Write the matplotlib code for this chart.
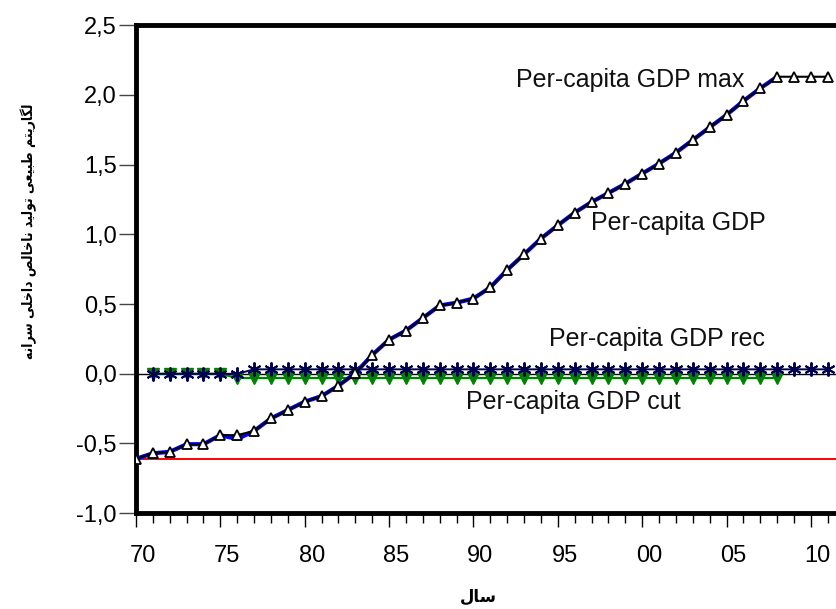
import matplotlib
matplotlib.use("Agg")
import matplotlib.pyplot as plt
import matplotlib.transforms as mtransforms
from matplotlib.ticker import MultipleLocator, FuncFormatter

# Data
years = list(range(1970, 2012))

# Per-capita GDP max (white triangles), 1970-2011
gdp_max = [-0.61, -0.57, -0.56, -0.505, -0.505, -0.44, -0.44, -0.41, -0.32, -0.26,
           -0.20, -0.16, -0.085, 0.005, 0.135, 0.245, 0.31, 0.40, 0.49, 0.51,
           0.54, 0.62, 0.745, 0.857, 0.97, 1.065, 1.156, 1.232, 1.297, 1.363,
           1.436, 1.508, 1.586, 1.677, 1.768, 1.857, 1.957, 2.048, 2.131, 2.131,
           2.131, 2.131]

# Per-capita GDP (blue line), 1970-2008
gdp = [-0.61, -0.57, -0.56, -0.505, -0.505, -0.44, -0.468, -0.41, -0.32, -0.26,
       -0.20, -0.16, -0.085, 0.005, 0.135, 0.245, 0.31, 0.40, 0.49, 0.51,
       0.54, 0.62, 0.745, 0.857, 0.97, 1.065, 1.156, 1.232, 1.297, 1.363,
       1.436, 1.508, 1.586, 1.677, 1.768, 1.857, 1.957, 2.048, 2.131]

# Per-capita GDP rec (asterisks), 1971-2011
rec_years = list(range(1971, 2012))
gdp_rec = [0.0, 0.0, 0.0, 0.0, 0.0, 0.0, 0.032, 0.032, 0.032, 0.032,
           0.032, 0.032, 0.032, 0.032, 0.032, 0.032, 0.032, 0.032, 0.032, 0.032,
           0.032, 0.032, 0.032, 0.032, 0.032, 0.032, 0.032, 0.032, 0.032, 0.032,
           0.032, 0.032, 0.032, 0.032, 0.032, 0.032, 0.032, 0.032, 0.032, 0.032,
           0.032]

# Per-capita GDP cut (green down triangles), 1971-2008
cut_years = list(range(1971, 2009))
gdp_cut = [0.0, 0.0, 0.0, 0.0, 0.0, -0.03, -0.03, -0.03, -0.03, -0.03,
           -0.03, -0.03, -0.03, -0.03, -0.03, -0.03, -0.03, -0.03, -0.03, -0.03,
           -0.03, -0.03, -0.03, -0.03, -0.03, -0.03, -0.03, -0.03, -0.03, -0.03,
           -0.03, -0.03, -0.03, -0.03, -0.03, -0.03, -0.03, -0.03]

red_level = -0.613

ylabel_fa = "لگاریتم طبیعی تولید ناخالص داخلی سرانه"
xlabel_fa = "سال"

# minimal Persian shaping (matplotlib does no joining / RTL)
FORMS = {
    'ل': '\ufedd\ufede\ufedf\ufee0', 'گ': '\ufb92\ufb93\ufb94\ufb95',
    'ا': '\ufe8d\ufe8e', 'ر': '\ufead\ufeae', 'ی': '\ufbfc\ufbfd\ufbfe\ufbff',
    'ت': '\ufe95\ufe96\ufe97\ufe98', 'م': '\ufee1\ufee2\ufee3\ufee4',
    'ط': '\ufec1\ufec2\ufec3\ufec4', 'ب': '\ufe8f\ufe90\ufe91\ufe92',
    'ع': '\ufec9\ufeca\ufecb\ufecc', 'و': '\ufeed\ufeee', 'د': '\ufea9\ufeaa',
    'ن': '\ufee5\ufee6\ufee7\ufee8', 'خ': '\ufea5\ufea6\ufea7\ufea8',
    'ص': '\ufeb9\ufeba\ufebb\ufebc', 'س': '\ufeb1\ufeb2\ufeb3\ufeb4',
    'ه': '\ufee9\ufeea\ufeeb\ufeec',
}

def links_left(c):
    return c in FORMS and len(FORMS[c]) == 4

def shape(text):
    out = []
    for i, c in enumerate(text):
        if c not in FORMS:
            out.append(c)
            continue
        prev = i > 0 and links_left(text[i - 1])
        nxt = i + 1 < len(text) and text[i + 1] in FORMS and links_left(c)
        f = FORMS[c]
        if prev and nxt:
            out.append(f[3])
        elif prev:
            out.append(f[1])
        elif nxt:
            out.append(f[2])
        else:
            out.append(f[0])
    return ''.join(out)[::-1]

plt.rcParams['font.family'] = ['Liberation Sans', 'DejaVu Sans']

fig = plt.figure(figsize=(8.36, 6.09), dpi=100)
ax = fig.add_axes([136 / 836, 95.8 / 609, 700 / 836, 487.9 / 609])

ax.axhline(0, color='black', lw=1.0, zorder=1)
ax.axhline(red_level, color='#ff0000', lw=1.4, zorder=2)

ax.plot(cut_years, gdp_cut, color='#008000', lw=1.6, marker='v', ms=8,
        mfc='#008000', mec='#008000', zorder=3)
ax.plot(rec_years, gdp_rec, color='#000050', lw=1.4, marker=(6, 2, 0), ms=10,
        mew=1.4, mec='#000050', zorder=4)
ax.plot(years[:len(gdp)], gdp, color='#0000ff', lw=3.0, zorder=5)
ax.plot(years, gdp_max, color='black', lw=1.5, marker='^', ms=7.5,
        mfc='white', mec='black', mew=1.3, zorder=6)

txt = dict(fontsize=18, color='#111111', ha='center', va='center')
ax.text(1999.3, 2.108, "Per-capita GDP max", **txt)
ax.text(2002.15, 1.084, "Per-capita GDP", **txt)
ax.text(2000.9, 0.249, "Per-capita GDP rec", **txt)
ax.text(1995.9, -0.20, "Per-capita GDP cut", **txt)

ax.set_xlim(1970, 2011.49)
ax.set_ylim(-1.0, 2.5)
ax.xaxis.set_major_locator(MultipleLocator(5))
ax.xaxis.set_minor_locator(MultipleLocator(1))
ax.yaxis.set_major_locator(MultipleLocator(0.5))
ax.xaxis.set_major_formatter(FuncFormatter(lambda v, p: "%02d" % (int(round(v)) % 100)))
ax.yaxis.set_major_formatter(FuncFormatter(lambda v, p: ("%.1f" % v).replace('.', ',')))

for side in ['left', 'top', 'bottom']:
    ax.spines[side].set_linewidth(3.5)
ax.spines['right'].set_visible(False)
ax.tick_params(axis='y', direction='out', length=12, width=1.0, color='#444444',
               labelsize=17, pad=2)
ax.tick_params(axis='x', which='major', direction='out', length=10, width=1.0,
               labelsize=17, pad=13)
ax.tick_params(axis='x', which='minor', direction='out', length=7, width=1.0)

# x tick labels sit a little right of their ticks in the reference
shift = mtransforms.ScaledTranslation(7 / 100, 0, fig.dpi_scale_trans)
for lab in ax.get_xticklabels():
    lab.set_transform(lab.get_transform() + shift)

fig.text(29 / 836, 1 - 231 / 609, shape(ylabel_fa), rotation=90, fontsize=10,
         fontweight='bold', fontstretch='condensed', family='DejaVu Sans',
         ha='center', va='center')
fig.text(478 / 836, 1 - 597 / 609, shape(xlabel_fa), fontsize=12,
         fontweight='bold', family='DejaVu Sans', ha='center', va='center')

fig.savefig("out.png", dpi=100)
